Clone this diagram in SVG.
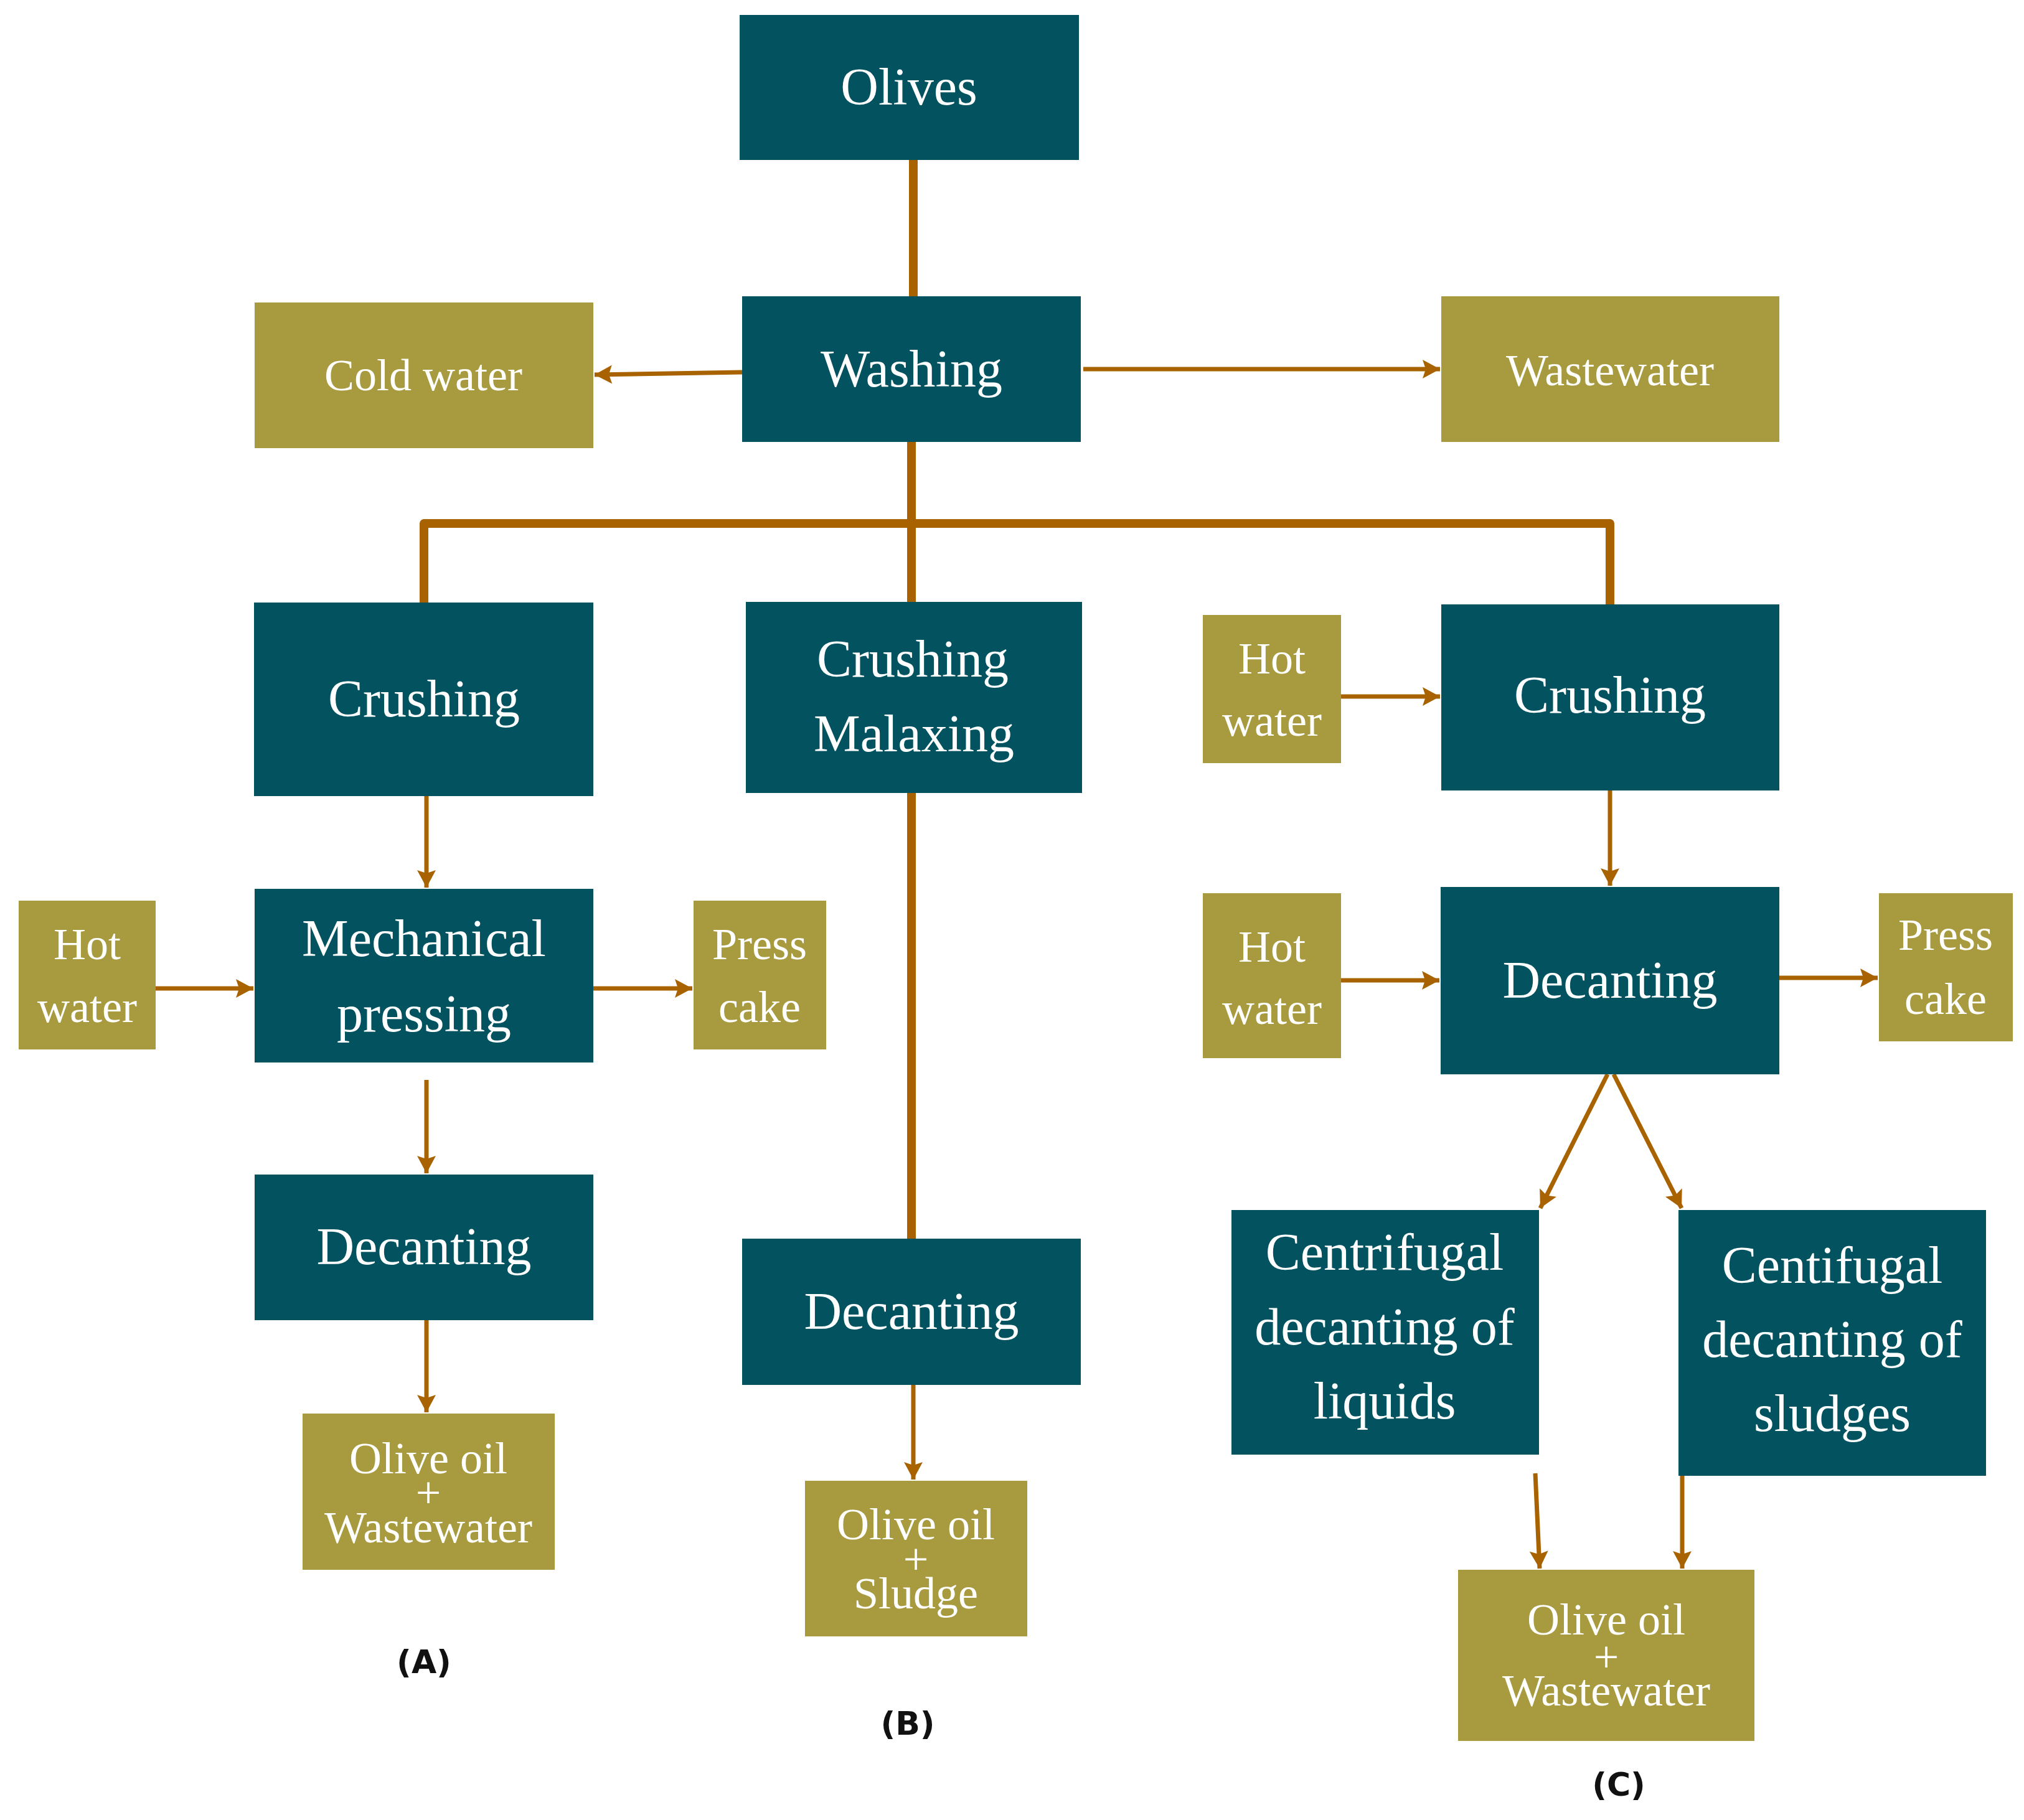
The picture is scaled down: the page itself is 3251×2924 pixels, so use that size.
<svg xmlns="http://www.w3.org/2000/svg" width="3251" height="2924" viewBox="0 0 3251 2924">
<style>
.t{fill:#02535F}
.o{fill:#A89B3F}
.tt{font-family:"Liberation Serif","Times New Roman",serif;font-size:84px;fill:#FFFFFF;text-anchor:middle}
.ot{font-family:"Liberation Serif","Times New Roman",serif;font-size:72px;fill:#FFFFFF;text-anchor:middle}
.lab{font-family:"DejaVu Sans",Verdana,sans-serif;font-weight:bold;font-size:52px;fill:#111111;text-anchor:middle}
.thick{stroke:#A86300;stroke-width:14;fill:none}
.thin{stroke:#A86300;stroke-width:7;fill:none;marker-end:url(#ah)}
</style>
<defs>
<marker id="ah" markerUnits="userSpaceOnUse" markerWidth="32" markerHeight="32" viewBox="0 0 30 32" refX="28" refY="16" orient="auto">
<path d="M0,1 L28,16 L0,31 L5,16 Z" fill="#A86300"/>
</marker>
</defs>
<rect width="3251" height="2924" fill="#FFFFFF"/>

<g id="connectors">
<line class="thick" x1="1467" y1="257" x2="1467" y2="476"/>
<line class="thick" x1="1464" y1="709" x2="1464" y2="968"/>
<polyline class="thick" points="681,968 681,841 2586,841 2586,972" stroke-linejoin="round"/>
<line class="thick" x1="1464" y1="1273" x2="1464" y2="1991"/>
<line class="thin" x1="1192" y1="598" x2="955" y2="602"/>
<line class="thin" x1="1740" y1="593" x2="2313" y2="593"/>
<line class="thin" x1="685" y1="1279" x2="685" y2="1426"/>
<line class="thin" x1="250" y1="1588" x2="407" y2="1588"/>
<line class="thin" x1="953" y1="1588" x2="1112" y2="1588"/>
<line class="thin" x1="685" y1="1735" x2="685" y2="1885"/>
<line class="thin" x1="685" y1="2121" x2="685" y2="2269"/>
<line class="thin" x1="1467" y1="2225" x2="1467" y2="2377"/>
<line class="thin" x1="2154" y1="1119" x2="2313" y2="1119"/>
<line class="thin" x1="2586" y1="1270" x2="2586" y2="1423"/>
<line class="thin" x1="2154" y1="1575" x2="2312" y2="1575"/>
<line class="thin" x1="2858" y1="1571" x2="3016" y2="1571"/>
<line class="thin" x1="2582" y1="1726" x2="2474" y2="1941"/>
<line class="thin" x1="2592" y1="1726" x2="2701" y2="1941"/>
<line class="thin" x1="2466" y1="2367" x2="2473" y2="2520"/>
<line class="thin" x1="2702" y1="2371" x2="2702" y2="2520"/>
</g>

<g id="olives"><rect class="t" x="1188" y="24" width="545" height="233"/><text class="tt" x="1460" y="168">Olives</text></g>
<g id="washing"><rect class="t" x="1192" y="476" width="544" height="234"/><text class="tt" x="1464" y="621">Washing</text></g>
<g id="cold-water"><rect class="o" x="409" y="486" width="544" height="234"/><text class="ot" x="680" y="627">Cold water</text></g>
<g id="wastewater-top"><rect class="o" x="2315" y="476" width="543" height="234"/><text class="ot" x="2586" y="619">Wastewater</text></g>

<g id="crushing-a"><rect class="t" x="408" y="968" width="545" height="311"/><text class="tt" x="681" y="1151">Crushing</text></g>
<g id="hot-water-a"><rect class="o" x="30" y="1447" width="220" height="239"/><text class="ot" x="140" y="1541">Hot</text><text class="ot" x="140" y="1642">water</text></g>
<g id="mechanical-pressing"><rect class="t" x="409" y="1428" width="544" height="279"/><text class="tt" x="681" y="1536">Mechanical</text><text class="tt" x="681" y="1657">pressing</text></g>
<g id="press-cake-a"><rect class="o" x="1114" y="1447" width="213" height="239"/><text class="ot" x="1220" y="1541">Press</text><text class="ot" x="1220" y="1642">cake</text></g>
<g id="decanting-a"><rect class="t" x="409" y="1887" width="544" height="234"/><text class="tt" x="681" y="2031">Decanting</text></g>
<g id="olive-oil-wastewater-a"><rect class="o" x="486" y="2271" width="405" height="251"/><text class="ot" x="688" y="2367">Olive oil</text><text class="ot" x="688" y="2422">+</text><text class="ot" x="688" y="2478">Wastewater</text></g>
<text class="lab" x="681" y="2688">(A)</text>

<g id="crushing-malaxing"><rect class="t" x="1198" y="967" width="540" height="307"/><text class="tt" x="1466" y="1087">Crushing</text><text class="tt" x="1468" y="1207">Malaxing</text></g>
<g id="decanting-b"><rect class="t" x="1192" y="1990" width="544" height="235"/><text class="tt" x="1464" y="2135">Decanting</text></g>
<g id="olive-oil-sludge"><rect class="o" x="1293" y="2379" width="357" height="250"/><text class="ot" x="1471" y="2473">Olive oil</text><text class="ot" x="1471" y="2529">+</text><text class="ot" x="1471" y="2584">Sludge</text></g>
<text class="lab" x="1458" y="2787">(B)</text>

<g id="hot-water-c1"><rect class="o" x="1932" y="988" width="222" height="238"/><text class="ot" x="2043" y="1082">Hot</text><text class="ot" x="2043" y="1182">water</text></g>
<g id="crushing-c"><rect class="t" x="2315" y="971" width="543" height="299"/><text class="tt" x="2586" y="1145">Crushing</text></g>
<g id="hot-water-c2"><rect class="o" x="1932" y="1435" width="222" height="265"/><text class="ot" x="2043" y="1545">Hot</text><text class="ot" x="2043" y="1645">water</text></g>
<g id="decanting-c"><rect class="t" x="2314" y="1425" width="544" height="301"/><text class="tt" x="2586" y="1603">Decanting</text></g>
<g id="press-cake-c"><rect class="o" x="3018" y="1435" width="215" height="238"/><text class="ot" x="3125" y="1526">Press</text><text class="ot" x="3125" y="1629">cake</text></g>
<g id="centrifugal-liquids"><rect class="t" x="1978" y="1944" width="494" height="393"/><text class="tt" x="2224" y="2040">Centrifugal</text><text class="tt" x="2224" y="2160">decanting of</text><text class="tt" x="2224" y="2279">liquids</text></g>
<g id="centifugal-sludges"><rect class="t" x="2696" y="1944" width="494" height="427"/><text class="tt" x="2943" y="2061">Centifugal</text><text class="tt" x="2943" y="2180">decanting of</text><text class="tt" x="2943" y="2299">sludges</text></g>
<g id="olive-oil-wastewater-c"><rect class="o" x="2342" y="2522" width="476" height="275"/><text class="ot" x="2580" y="2626">Olive oil</text><text class="ot" x="2580" y="2686">+</text><text class="ot" x="2580" y="2740">Wastewater</text></g>
<text class="lab" x="2600" y="2885">(C)</text>
</svg>
